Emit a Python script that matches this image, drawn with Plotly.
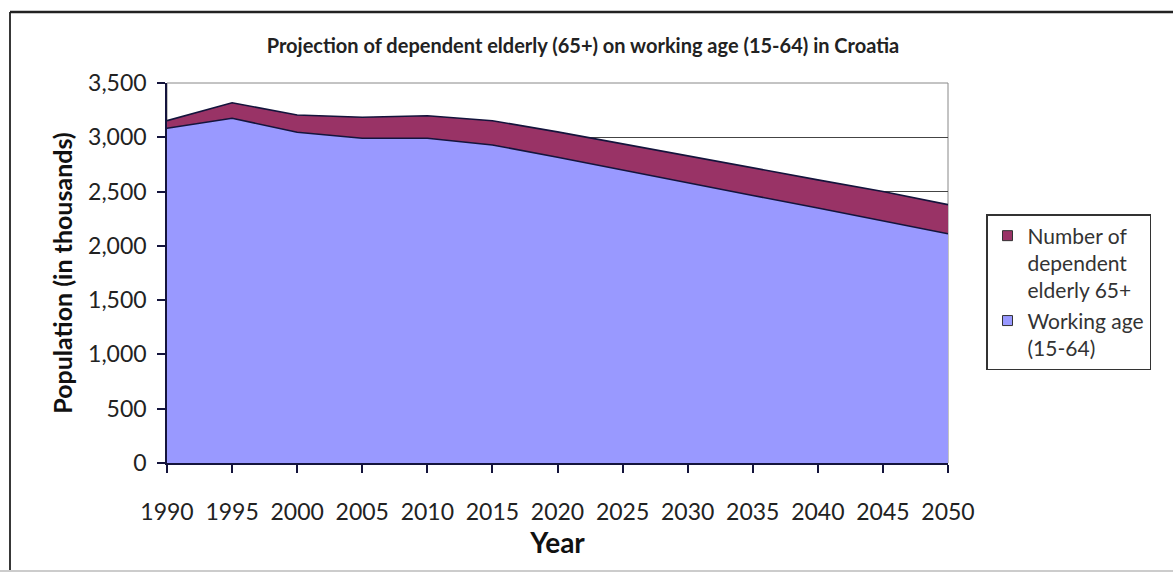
import plotly.graph_objects as go

# Croatia population projection, thousands
years = [1990, 1995, 2000, 2005, 2010, 2015, 2020, 2025, 2030, 2035, 2040, 2045, 2050]
working_age = [3083, 3175, 3046, 2991, 2991, 2929, 2816, 2697, 2580, 2464, 2348, 2229, 2112]
elderly_65 = [70, 143, 159, 193, 208, 224, 234, 241, 248, 254, 260, 271, 268]

y_ticks = [0, 500, 1000, 1500, 2000, 2500, 3000, 3500]
y_tick_text = ["0", "500", "1,000", "1,500", "2,000", "2,500", "3,000", "3,500"]

WORK_COLOR = "#9999FF"
ELDER_COLOR = "#993366"
EDGE = "#14143c"
FONT = "Lato"

fig = go.Figure()

fig.add_trace(go.Scatter(
    x=years, y=working_age, stackgroup="pop", mode="lines",
    line=dict(color=EDGE, width=1.6), fillcolor=WORK_COLOR,
    name="Working age<br>(15-64)", showlegend=False, hoverinfo="x+y",
))
fig.add_trace(go.Scatter(
    x=years, y=elderly_65, stackgroup="pop", mode="lines",
    line=dict(color=EDGE, width=1.6), fillcolor=ELDER_COLOR,
    name="Number of<br>dependent<br>elderly 65+", showlegend=False, hoverinfo="x+y",
))

# square swatches for the legend
fig.add_trace(go.Scatter(
    x=[None], y=[None], mode="markers", name="Number of<br>dependent<br>elderly 65+",
    marker=dict(symbol="square", size=10, color=ELDER_COLOR, line=dict(color="#333", width=1)),
))
fig.add_trace(go.Scatter(
    x=[None], y=[None], mode="markers", name="Working age<br>(15-64)",
    marker=dict(symbol="square", size=10, color=WORK_COLOR, line=dict(color="#333", width=1)),
))

fig.update_layout(
    width=1173, height=572,
    margin=dict(l=167, r=225, t=83, b=109),
    paper_bgcolor="white", plot_bgcolor="white",
    font=dict(family=FONT, color="#222"),
    title=dict(
        text="<b>Projection of dependent elderly (65+) on working age (15-64) in Croatia</b>",
        x=0.497, xanchor="center", y=1 - 46 / 572, yanchor="middle",
        font=dict(family=FONT, size=20, color="#222"),
    ),
    xaxis=dict(
        range=[1990, 2050], tickvals=years, ticktext=[str(y) for y in years],
        showgrid=False, zeroline=False,
        showline=True, linecolor="#14143c", linewidth=1.5,
        ticks="outside", ticklen=8, tickcolor="#14143c", tickwidth=1.5,
        tickfont=dict(family=FONT, size=23, color="#222"),
        ticklabelstandoff=20,
        title=dict(text="<b>Year</b>", font=dict(family=FONT, size=28, color="#111"), standoff=8),
    ),
    yaxis=dict(
        range=[0, 3500], tickvals=y_ticks, ticktext=y_tick_text,
        showgrid=True, gridcolor="#444", gridwidth=1, zeroline=False,
        showline=True, linecolor="#14143c", linewidth=1.5,
        ticks="outside", ticklen=8, tickcolor="#14143c", tickwidth=1.5,
        tickfont=dict(family=FONT, size=23, color="#222"),
        ticklabelstandoff=6,
        title=dict(text="<b>Population (in thousands)</b>", font=dict(family=FONT, size=25, color="#111"), standoff=8),
    ),
    legend=dict(
        x=(986 - 167) / 781, xanchor="left", y=(463 - 214) / 380, yanchor="top",
        bordercolor="#333", borderwidth=1.5, bgcolor="white",
        font=dict(family=FONT, size=21, color="#333"),
        valign="top", tracegroupgap=0, traceorder="normal",
    ),
    shapes=[
        # plot area frame
        dict(type="rect", xref="paper", yref="paper", x0=0, x1=1, y0=0, y1=1,
             line=dict(color="#888", width=1), layer="below"),
        # chart border
        dict(type="line", xref="paper", yref="paper", x0=(10 - 167) / 781, x1=1.3,
             y0=(463 - 12) / 380, y1=(463 - 12) / 380, line=dict(color="#222", width=2.5)),
        dict(type="line", xref="paper", yref="paper", x0=(10 - 167) / 781, x1=(10 - 167) / 781,
             y0=(463 - 12) / 380, y1=-0.3, line=dict(color="#222", width=1.8)),
        dict(type="line", xref="paper", yref="paper", x0=-0.3, x1=1.3,
             y0=(463 - 571) / 380, y1=(463 - 571) / 380, line=dict(color="#ccc", width=2)),
    ],
)

fig.write_html("out.html")
